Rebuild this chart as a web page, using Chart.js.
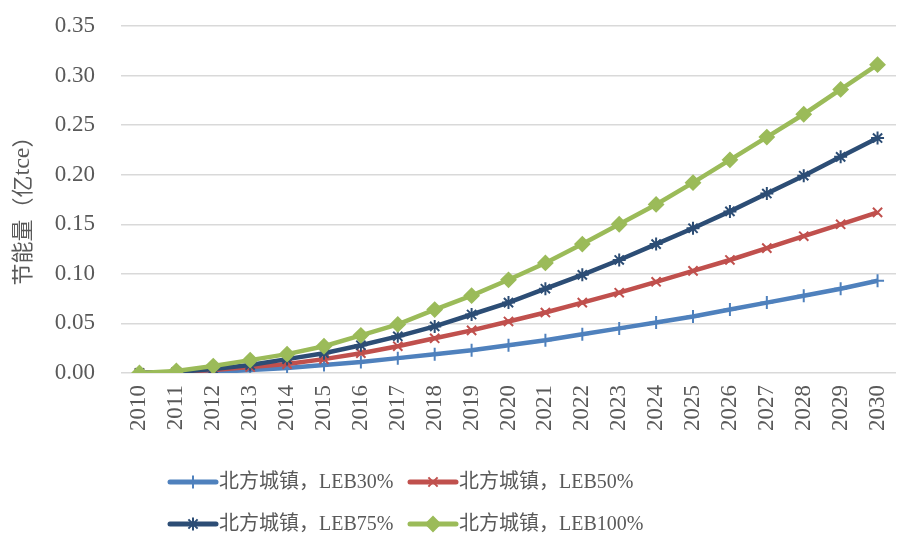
<!DOCTYPE html>
<html>
<head>
<meta charset="utf-8">
<script src="https://cdn.jsdelivr.net/npm/chart.js@4.4.1/dist/chart.umd.min.js"></script>
<style>
  html, body { margin: 0; padding: 0; background: #ffffff; }
  #wrap { width: 905px; height: 535px; position: relative; }
</style>
</head>
<body>
<div id="wrap"><canvas id="c" width="905" height="535"></canvas></div>
<script>
// Years on the category axis
const years = ['2010','2011','2012','2013','2014','2015','2016','2017','2018','2019','2020',
               '2021','2022','2023','2024','2025','2026','2027','2028','2029','2030'];

// Energy savings, 100 million tce
const leb30  = [0, 0.0005, 0.001, 0.003, 0.005, 0.008, 0.011, 0.015, 0.019, 0.023, 0.028,
                0.033, 0.039, 0.045, 0.051, 0.057, 0.064, 0.071, 0.078, 0.085, 0.093];
const leb50  = [0, 0.001, 0.003, 0.006, 0.009, 0.014, 0.020, 0.027, 0.035, 0.043, 0.052,
                0.061, 0.071, 0.081, 0.092, 0.103, 0.114, 0.126, 0.138, 0.150, 0.162];
const leb75  = [0, 0.001, 0.004, 0.008, 0.014, 0.020, 0.028, 0.037, 0.047, 0.059, 0.071,
                0.085, 0.099, 0.114, 0.130, 0.146, 0.163, 0.181, 0.199, 0.218, 0.237];
const leb100 = [0, 0.002, 0.007, 0.013, 0.019, 0.027, 0.038, 0.049, 0.064, 0.078, 0.094,
                0.111, 0.130, 0.150, 0.170, 0.192, 0.215, 0.238, 0.261, 0.286, 0.311];

const seriesNames = ['北方城镇，LEB30%', '北方城镇，LEB50%', '北方城镇，LEB75%', '北方城镇，LEB100%'];
const yTicks = [0, 0.05, 0.10, 0.15, 0.20, 0.25, 0.30, 0.35];
// Axis title pieces: CJK characters sit in full-em cells, the unit uses a latin face
const yTitleParts = [['节', 'cjk'], ['能', 'cjk'], ['量', 'cjk'], ['（', 'cjk'], ['亿', 'cjk'],
                     ['tce', 'latin'], ['）', 'cjk']];

const textColor = '#595959';
const fontFamily = '"Liberation Serif", "Noto Sans CJK SC", serif';
const cjkSize = 22;
const cjkFont = cjkSize + 'px "Noto Sans CJK SC", sans-serif';
const latinFont = '24px "Liberation Serif", serif';

function series(label, data, color, style, radius, fill, order) {
  return {
    label, data, order,
    borderColor: color,
    backgroundColor: color,
    borderWidth: 4.5,
    tension: 0,
    pointStyle: style,
    pointRadius: radius,
    pointBorderWidth: 2,
    pointBorderColor: color,
    pointBackgroundColor: fill ? color : 'transparent'
  };
}

const datasets = [
  series(seriesNames[0], leb30,  '#4f81bd', 'cross',    6.5, false, 3),
  series(seriesNames[1], leb50,  '#c0504d', 'crossRot', 6.5, false, 2),
  series(seriesNames[2], leb75,  '#2c4d75', 'star',     6.5, false, 1),
  series(seriesNames[3], leb100, '#9bbb59', 'rectRot',  7,   true, 0)
];

// Vertical y-axis title, drawn piece by piece so each part keeps its own face
const axisTitle = {
  id: 'axisTitle',
  afterDraw(chart) {
    const ctx = chart.ctx;
    const area = chart.chartArea;
    ctx.save();
    const widths = yTitleParts.map(([t, kind]) => {
      if (kind === 'cjk') return cjkSize;
      ctx.font = latinFont;
      return ctx.measureText(t).width;
    });
    const total = widths.reduce((a, b) => a + b, 0);
    const cy = (area.top + area.bottom) / 2 + 6;
    ctx.translate(22, cy);
    ctx.rotate(-Math.PI / 2);
    ctx.fillStyle = textColor;
    ctx.textBaseline = 'middle';
    let x = -total / 2;
    yTitleParts.forEach(([t, kind], i) => {
      if (kind === 'cjk') {
        ctx.font = cjkFont;
        ctx.textAlign = 'center';
        ctx.fillText(t, x + widths[i] / 2, 0);
      } else {
        ctx.font = latinFont;
        ctx.textAlign = 'left';
        ctx.fillText(t, x, 1);
      }
      x += widths[i];
    });
    ctx.restore();
  }
};

// Two-row legend with line + marker samples under the plot
const lineLegend = {
  id: 'lineLegend',
  afterDraw(chart) {
    const ctx = chart.ctx;
    const cols = [170, 410];
    const rows = [482, 524];
    const sampleLen = 46;
    ctx.save();
    chart.data.datasets.forEach((ds, i) => {
      const x = cols[i % 2];
      const y = rows[Math.floor(i / 2)];
      ctx.strokeStyle = ds.borderColor;
      ctx.lineWidth = 5;
      ctx.lineCap = 'round';
      ctx.beginPath();
      ctx.moveTo(x, y);
      ctx.lineTo(x + sampleLen, y);
      ctx.stroke();
      ctx.lineCap = 'butt';
      ctx.fillStyle = ds.pointBackgroundColor;
      ctx.strokeStyle = ds.pointBorderColor;
      ctx.lineWidth = ds.pointBorderWidth;
      Chart.helpers.drawPoint(ctx, {
        pointStyle: ds.pointStyle,
        radius: ds.pointRadius,
        rotation: 0,
        borderWidth: ds.pointBorderWidth
      }, x + sampleLen / 2, y);
      ctx.fillStyle = textColor;
      ctx.font = '20px ' + fontFamily;
      ctx.textBaseline = 'middle';
      ctx.textAlign = 'left';
      ctx.fillText(ds.label, x + sampleLen + 3, y + 1);
    });
    ctx.restore();
  }
};

new Chart(document.getElementById('c'), {
  type: 'line',
  data: { labels: years, datasets },
  plugins: [lineLegend, axisTitle],
  options: {
    responsive: false,
    animation: false,
    devicePixelRatio: 1,
    layout: { padding: { top: 26, right: 2, left: 0, bottom: 0 } },
    plugins: { legend: { display: false }, tooltip: { enabled: false } },
    scales: {
      x: {
        offset: true,
        grid: { display: false, drawTicks: false },
        border: { display: false },
        ticks: {
          color: textColor,
          font: { family: fontFamily, size: 23 },
          minRotation: 90, maxRotation: 90,
          autoSkip: false,
          padding: 12
        },
        afterFit(scale) {
          scale.height = 162;
          scale.paddingLeft = 0; scale.paddingRight = 0;
        }
      },
      y: {
        min: 0, max: 0.35,
        afterBuildTicks(scale) { scale.ticks = yTicks.map(v => ({ value: v })); },
        grid: { color: '#d9d9d9', lineWidth: 1.5, drawTicks: false },
        border: { display: false },
        ticks: {
          color: textColor,
          font: { family: fontFamily, size: 23 },
          padding: 26,
          callback: v => Number(v).toFixed(2)
        },
        afterFit(scale) {
          scale.width = 121;
          scale.paddingTop = 0; scale.paddingBottom = 0;
        }
      }
    }
  }
});
</script>
</body>
</html>
